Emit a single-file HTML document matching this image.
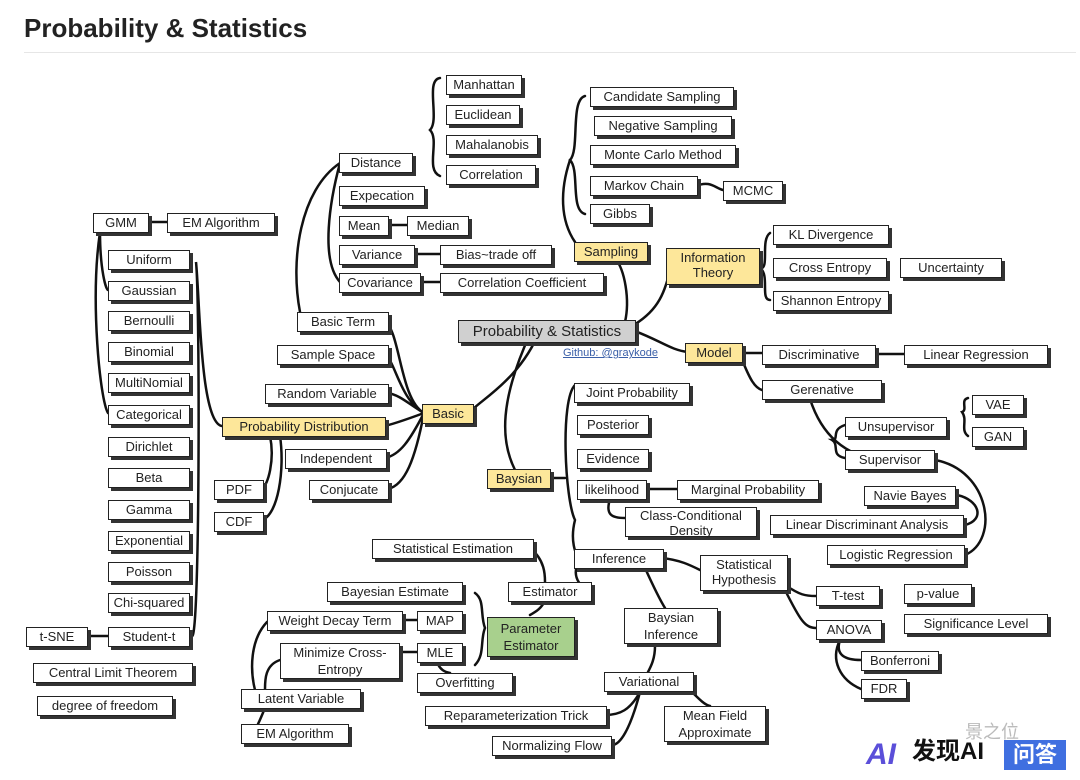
<!DOCTYPE html>
<html><head><meta charset="utf-8"><style>
body{margin:0;width:1080px;height:780px;background:#fff;position:relative;overflow:hidden;font-family:"Liberation Sans",sans-serif;}
.t{position:absolute;left:24px;top:13px;font-size:26px;font-weight:bold;color:#222;}
.hr{position:absolute;left:24px;top:52px;width:1052px;height:1px;background:#e6e6e6;}
.b{position:absolute;height:18px;line-height:18px;border:1.5px solid #222;background:#fff;box-shadow:3px 3px 0 #333;font-size:13px;color:#222;text-align:center;white-space:nowrap;box-sizing:content-box;}
.y{background:#fde79a;}
.g{background:#d0d0d0;font-size:15px;height:21px;line-height:21px;}
.gr{background:#a8d08d;}
.m{line-height:15px;white-space:normal;}
svg{position:absolute;left:0;top:0;}
</style></head><body>
<div class="t">Probability &amp; Statistics</div><div class="hr"></div>
<svg width="1080" height="780" fill="none" stroke="#111" stroke-width="2.5" stroke-linecap="round">
<!-- center links -->
<path d="M540 330 C520 380 480 400 470 412"/>
<path d="M530 334 C500 400 500 440 515 470"/>
<path d="M625 322 C630 300 625 270 615 258"/>
<path d="M632 326 C660 310 665 290 670 270"/>
<path d="M632 330 C660 340 670 350 688 352"/>
<!-- basic -->
<path d="M424 413 C400 400 400 330 385 322"/>
<path d="M424 413 C400 400 395 360 385 355"/>
<path d="M424 413 C410 405 400 395 388 393"/>
<path d="M424 413 C405 420 390 425 384 426"/>
<path d="M424 413 C410 440 400 455 385 458"/>
<path d="M424 413 C415 460 405 485 388 489"/>
<path d="M300 312 C290 260 300 190 340 163"/>
<path d="M340 163 C330 200 320 260 340 282"/>
<path d="M387 225 L407 225"/><path d="M413 254 L440 254"/><path d="M419 282 L440 282"/>
<path d="M440 78 C425 80 440 120 430 130 C440 140 425 170 440 176"/>
<!-- prob dist -->
<path d="M224 426 C200 430 200 300 196 262 C200 300 200 640 192 636"/>
<path d="M270 436 C275 460 268 485 262 489"/><path d="M280 436 C285 470 278 515 262 520"/>
<path d="M100 232 C90 300 100 400 108 413"/><path d="M100 232 C100 270 106 290 108 290"/>
<path d="M147 222 L167 222"/><path d="M86 636 L108 636"/>
<!-- sampling -->
<path d="M585 96 C570 100 580 150 570 160 C580 170 570 210 585 214"/>
<path d="M575 242 C560 220 560 190 570 160"/>
<path d="M696 186 C710 180 715 188 723 190"/>
<!-- info -->
<path d="M770 233 C760 240 770 270 760 268 C770 275 760 300 770 300"/>
<!-- model -->
<path d="M741 353 L762 353"/><path d="M874 354 L904 354"/>
<path d="M741 357 C750 380 755 388 762 390"/>
<path d="M810 399 C820 430 840 455 880 460"/>
<path d="M845 425 C830 430 840 440 832 440 C840 445 830 455 845 458"/>
<path d="M968 398 C960 400 968 410 962 412 C968 420 960 430 968 436"/>
<path d="M935 460 C990 470 1000 540 965 555"/>
<path d="M957 495 C980 500 985 520 965 525"/>
<!-- baysian -->
<path d="M575 385 C560 400 565 500 575 520 C570 540 575 555 580 558"/>
<path d="M548 478 L565 478"/>
<path d="M646 489 L677 489"/><path d="M610 499 C605 515 612 518 625 518"/>
<!-- inference -->
<path d="M662 558 C680 560 690 565 700 570"/>
<path d="M785 585 C800 595 805 596 816 596"/><path d="M785 590 C800 620 805 628 816 628"/>
<path d="M840 640 C830 660 840 680 861 689"/><path d="M840 640 C835 655 845 660 861 660"/>
<path d="M645 568 C655 590 660 600 665 608"/>
<path d="M655 646 C655 660 650 668 648 672"/>
<path d="M640 692 C630 710 620 715 605 715"/><path d="M640 692 C630 730 620 745 612 745"/>
<path d="M692 692 C700 700 705 705 710 706"/>
<path d="M580 560 C570 575 580 588 590 590"/>
<!-- estimation -->
<path d="M530 548 C545 560 545 575 545 582"/>
<path d="M545 601 C540 610 535 612 530 615"/>
<path d="M475 593 C485 600 480 615 485 628 C480 640 485 655 475 665"/>
<path d="M401 620 L417 620"/><path d="M398 652 L417 652"/><path d="M437 662 C440 670 445 672 450 673"/>
<path d="M267 622 C250 640 250 670 255 690"/><path d="M280 660 C265 665 265 680 265 689"/>
<path d="M265 708 C262 715 260 720 258 724"/>
</svg>
<div class="b" style="left:446px;top:75px;width:74px">Manhattan</div>
<div class="b" style="left:446px;top:105px;width:72px">Euclidean</div>
<div class="b" style="left:446px;top:135px;width:90px">Mahalanobis</div>
<div class="b" style="left:446px;top:165px;width:88px">Correlation</div>
<div class="b" style="left:339px;top:153px;width:72px">Distance</div>
<div class="b" style="left:339px;top:186px;width:84px">Expecation</div>
<div class="b" style="left:339px;top:216px;width:48px">Mean</div>
<div class="b" style="left:407px;top:216px;width:60px">Median</div>
<div class="b" style="left:339px;top:245px;width:74px">Variance</div>
<div class="b" style="left:440px;top:245px;width:110px">Bias~trade off</div>
<div class="b" style="left:339px;top:273px;width:80px">Covariance</div>
<div class="b" style="left:440px;top:273px;width:162px">Correlation Coefficient</div>
<div class="b" style="left:297px;top:312px;width:90px">Basic Term</div>
<div class="b" style="left:277px;top:345px;width:110px">Sample Space</div>
<div class="b" style="left:265px;top:384px;width:122px">Random Variable</div>
<div class="b y" style="left:422px;top:404px;width:50px">Basic</div>
<div class="b" style="left:285px;top:449px;width:100px">Independent</div>
<div class="b" style="left:309px;top:480px;width:78px">Conjucate</div>
<div class="b y" style="left:222px;top:417px;width:162px">Probability Distribution</div>
<div class="b" style="left:214px;top:480px;width:48px">PDF</div>
<div class="b" style="left:214px;top:512px;width:48px">CDF</div>
<div class="b" style="left:93px;top:213px;width:54px">GMM</div>
<div class="b" style="left:167px;top:213px;width:106px">EM Algorithm</div>
<div class="b" style="left:108px;top:250px;width:80px">Uniform</div>
<div class="b" style="left:108px;top:281px;width:80px">Gaussian</div>
<div class="b" style="left:108px;top:311px;width:80px">Bernoulli</div>
<div class="b" style="left:108px;top:342px;width:80px">Binomial</div>
<div class="b" style="left:108px;top:373px;width:80px">MultiNomial</div>
<div class="b" style="left:108px;top:405px;width:80px">Categorical</div>
<div class="b" style="left:108px;top:437px;width:80px">Dirichlet</div>
<div class="b" style="left:108px;top:468px;width:80px">Beta</div>
<div class="b" style="left:108px;top:500px;width:80px">Gamma</div>
<div class="b" style="left:108px;top:531px;width:80px">Exponential</div>
<div class="b" style="left:108px;top:562px;width:80px">Poisson</div>
<div class="b" style="left:108px;top:593px;width:80px">Chi-squared</div>
<div class="b" style="left:108px;top:627px;width:80px">Student-t</div>
<div class="b" style="left:26px;top:627px;width:60px">t-SNE</div>
<div class="b" style="left:33px;top:663px;width:158px">Central Limit Theorem</div>
<div class="b" style="left:37px;top:696px;width:134px">degree of freedom</div>
<div class="b" style="left:590px;top:87px;width:142px">Candidate Sampling</div>
<div class="b" style="left:594px;top:116px;width:136px">Negative Sampling</div>
<div class="b" style="left:590px;top:145px;width:144px">Monte Carlo Method</div>
<div class="b" style="left:590px;top:176px;width:106px">Markov Chain</div>
<div class="b" style="left:723px;top:181px;width:58px">MCMC</div>
<div class="b" style="left:590px;top:204px;width:58px">Gibbs</div>
<div class="b y" style="left:574px;top:242px;width:72px">Sampling</div>
<div class="b y m" style="left:666px;top:248px;width:92px;height:34px;padding-top:1px">Information Theory</div>
<div class="b" style="left:773px;top:225px;width:114px">KL Divergence</div>
<div class="b" style="left:773px;top:258px;width:112px">Cross Entropy</div>
<div class="b" style="left:900px;top:258px;width:100px">Uncertainty</div>
<div class="b" style="left:773px;top:291px;width:114px">Shannon Entropy</div>
<div class="b g" style="left:458px;top:320px;width:176px">Probability &amp; Statistics</div>
<div style="position:absolute;left:563px;top:347px;font-size:11px;color:#3a5fa8;text-decoration:underline">Github: @graykode</div>
<div class="b y" style="left:685px;top:343px;width:56px">Model</div>
<div class="b" style="left:762px;top:345px;width:112px">Discriminative</div>
<div class="b" style="left:904px;top:345px;width:142px">Linear Regression</div>
<div class="b" style="left:762px;top:380px;width:118px">Gerenative</div>
<div class="b" style="left:845px;top:417px;width:100px">Unsupervisor</div>
<div class="b" style="left:972px;top:395px;width:50px">VAE</div>
<div class="b" style="left:972px;top:427px;width:50px">GAN</div>
<div class="b" style="left:845px;top:450px;width:88px">Supervisor</div>
<div class="b" style="left:864px;top:486px;width:90px">Navie Bayes</div>
<div class="b" style="left:770px;top:515px;width:192px">Linear Discriminant Analysis</div>
<div class="b" style="left:827px;top:545px;width:136px">Logistic Regression</div>
<div class="b" style="left:574px;top:383px;width:114px">Joint Probability</div>
<div class="b" style="left:577px;top:415px;width:70px">Posterior</div>
<div class="b" style="left:577px;top:449px;width:70px">Evidence</div>
<div class="b" style="left:577px;top:480px;width:68px">likelihood</div>
<div class="b" style="left:677px;top:480px;width:140px">Marginal Probability</div>
<div class="b m" style="left:625px;top:507px;width:130px;height:28px">Class-Conditional Density</div>
<div class="b y" style="left:487px;top:469px;width:62px">Baysian</div>
<div class="b" style="left:574px;top:549px;width:88px">Inference</div>
<div class="b m" style="left:700px;top:555px;width:86px;height:33px;padding-top:1px">Statistical Hypothesis</div>
<div class="b" style="left:816px;top:586px;width:62px">T-test</div>
<div class="b" style="left:904px;top:584px;width:66px">p-value</div>
<div class="b" style="left:816px;top:620px;width:64px">ANOVA</div>
<div class="b" style="left:904px;top:614px;width:142px">Significance Level</div>
<div class="b" style="left:861px;top:651px;width:76px">Bonferroni</div>
<div class="b" style="left:861px;top:679px;width:44px">FDR</div>
<div class="b" style="left:372px;top:539px;width:160px">Statistical Estimation</div>
<div class="b" style="left:508px;top:582px;width:82px">Estimator</div>
<div class="b" style="left:327px;top:582px;width:134px">Bayesian Estimate</div>
<div class="b" style="left:267px;top:611px;width:134px">Weight Decay Term</div>
<div class="b" style="left:417px;top:611px;width:44px">MAP</div>
<div class="b gr m" style="left:487px;top:617px;width:86px;height:36px;line-height:17px;padding-top:2px">Parameter Estimator</div>
<div class="b m" style="left:280px;top:643px;width:118px;height:34px;line-height:17px">Minimize Cross-Entropy</div>
<div class="b" style="left:417px;top:643px;width:44px">MLE</div>
<div class="b" style="left:417px;top:673px;width:94px">Overfitting</div>
<div class="b" style="left:241px;top:689px;width:118px">Latent Variable</div>
<div class="b" style="left:241px;top:724px;width:106px">EM Algorithm</div>
<div class="b m" style="left:624px;top:608px;width:92px;height:34px;line-height:17px">Baysian Inference</div>
<div class="b" style="left:604px;top:672px;width:88px">Variational</div>
<div class="b" style="left:425px;top:706px;width:180px">Reparameterization Trick</div>
<div class="b" style="left:492px;top:736px;width:118px">Normalizing Flow</div>
<div class="b m" style="left:664px;top:706px;width:100px;height:34px;line-height:17px">Mean Field Approximate</div>
<div style="position:absolute;left:965px;top:718px;font-size:18px;color:#bbb;font-family:'Liberation Sans','Noto Sans CJK SC',sans-serif">景之位</div>
<div style="position:absolute;left:866px;top:740px;font-size:30px;font-weight:bold;font-style:italic;color:#5b4fd9;line-height:30px">AI</div>
<div style="position:absolute;left:912px;top:738px;font-size:24px;font-weight:bold;color:#111;font-family:'Liberation Sans','Noto Sans CJK SC',sans-serif;line-height:28px">发现AI</div>
<div style="position:absolute;left:1004px;top:740px;width:62px;height:30px;background:#3f6fe0;color:#fff;font-size:22px;font-weight:bold;text-align:center;line-height:30px;font-family:'Liberation Sans','Noto Sans CJK SC',sans-serif">问答</div>
</body></html>
